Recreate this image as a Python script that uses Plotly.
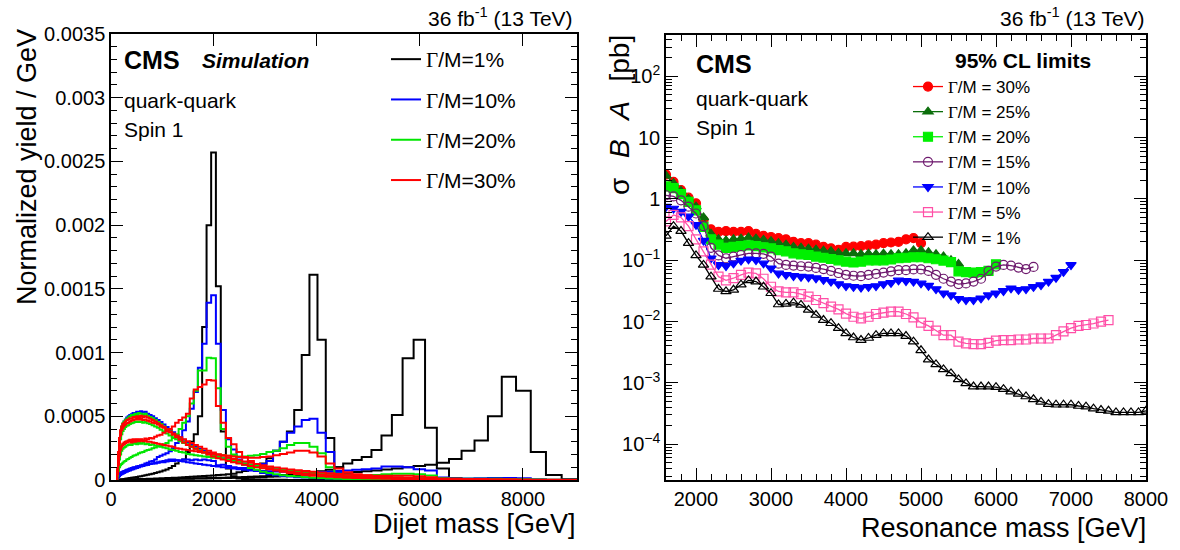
import plotly.graph_objects as go

# ---------------- left panel: signal shapes (normalized yield / GeV, in units of 1e-4) ----------------
# CMS dijet mass bin edges [GeV]
mass_edges = [103, 119, 137, 156, 176, 197, 220, 244, 270, 296, 325, 354, 386, 419, 453, 489, 526,
              565, 606, 649, 693, 740, 788, 838, 890, 944, 1000, 1058, 1118, 1181, 1246, 1313, 1383,
              1455, 1530, 1607, 1687, 1770, 1856, 1945, 2037, 2132, 2231, 2332, 2438, 2546, 2659,
              2775, 2895, 3019, 3147, 3279, 3416, 3558, 3704, 3854, 4010, 4171, 4337, 4509, 4686,
              4869, 5058, 5253, 5455, 5663, 5877, 6099, 6328, 6564, 6808, 7060, 7320, 7589, 7866,
              8152, 8447, 8752, 9067]

width_labels = ['1%', '10%', '20%', '30%']
width_colors = ['#000000', '#0000ff', '#00e600', '#ff0000']

m2000_w1 = [0, 0, 0, 0.02, 0.03, 0.05, 0.06, 0.08, 0.1, 0.11,
            0.13, 0.15, 0.17, 0.19, 0.21, 0.24, 0.27, 0.3, 0.33, 0.37,
            0.41, 0.45, 0.5, 0.55, 0.6, 0.66, 0.74, 0.83, 0.95, 1.1,
            1.3, 1.5, 1.6, 2.2, 3.0, 3.6, 5.0, 12.0, 20.0, 25.7,
            15.2, 3.8, 0.9, 0.3, 0.12, 0.08, 0.05, 0.04, 0.03, 0.02,
            0.02, 0.01, 0, 0, 0, 0, 0, 0, 0, 0,
            0, 0, 0, 0, 0, 0, 0, 0, 0, 0,
            0, 0, 0, 0, 0, 0, 0, 0]
m2000_w10 = [0, 0.15, 0.3, 0.45, 0.55, 0.6, 0.65, 0.7, 0.72, 0.78,
             0.8, 0.85, 0.9, 0.95, 1.0, 1.05, 1.1, 1.15, 1.2, 1.3,
             1.35, 1.45, 1.5, 1.6, 1.8, 1.9, 2.0, 2.1, 2.25, 2.5,
             2.9, 3.3, 3.9, 4.6, 5.6, 6.9, 8.8, 10.7, 13.9, 14.5,
             10.7, 5.5, 3.2, 2.4, 1.6, 1.2, 0.9, 0.7, 0.55, 0.45,
             0.38, 0.32, 0.27, 0.22, 0.19, 0.16, 0.13, 0.11, 0.09, 0.07,
             0.06, 0.05, 0.04, 0.03, 0.03, 0.02, 0.02, 0.01, 0.01, 0,
             0, 0, 0, 0, 0, 0, 0, 0]
m2000_w20 = [0, 0.3, 0.7, 1.0, 1.15, 1.25, 1.35, 1.45, 1.5, 1.6,
             1.65, 1.75, 1.8, 1.9, 1.95, 2.0, 2.1, 2.15, 2.2, 2.3,
             2.35, 2.4, 2.5, 2.55, 2.65, 2.7, 2.8, 2.9, 3.1, 3.3,
             3.6, 4.0, 4.5, 5.0, 6.0, 7.0, 8.6, 8.6, 9.6, 9.55,
             7.2, 4.0, 2.6, 2.0, 1.5, 1.2, 0.95, 0.8, 0.65, 0.55,
             0.45, 0.38, 0.32, 0.27, 0.22, 0.18, 0.15, 0.12, 0.1, 0.08,
             0.07, 0.06, 0.05, 0.04, 0.03, 0.03, 0.02, 0.02, 0.01, 0.01,
             0, 0, 0, 0, 0, 0, 0, 0]
m2000_w30 = [0, 0.5, 1.3, 2.0, 2.4, 2.6, 2.75, 2.8, 2.9, 2.95,
             3.0, 3.05, 2.95, 3.1, 3.0, 3.15, 3.05, 3.2, 3.1, 3.25,
             3.2, 3.3, 3.25, 3.4, 3.5, 3.55, 3.7, 3.85, 4.0, 4.2,
             4.5, 4.7, 4.9, 5.2, 6.4, 7.1, 7.3, 7.5, 7.85, 7.8,
             5.8, 4.5, 3.3, 2.8, 2.2, 1.8, 1.5, 1.25, 1.05, 0.9,
             0.75, 0.65, 0.55, 0.47, 0.4, 0.34, 0.29, 0.25, 0.21, 0.18,
             0.15, 0.13, 0.11, 0.09, 0.08, 0.06, 0.05, 0.04, 0.03, 0.02,
             0.02, 0.01, 0.01, 0, 0, 0, 0, 0]

m4000_w1 = [0, 0, 0, 0, 0.01, 0.01, 0.02, 0.02, 0.03, 0.03,
            0.04, 0.04, 0.05, 0.05, 0.06, 0.06, 0.07, 0.07, 0.08, 0.08,
            0.09, 0.1, 0.1, 0.11, 0.12, 0.13, 0.14, 0.15, 0.16, 0.17,
            0.18, 0.2, 0.21, 0.23, 0.25, 0.27, 0.29, 0.31, 0.33, 0.36,
            0.39, 0.42, 0.46, 0.5, 0.6, 0.7, 0.85, 1.05, 1.3, 1.7,
            2.3, 3.0, 3.8, 5.5, 9.8, 16.1, 11.0, 3.3, 1.0, 0.4,
            0.15, 0.06, 0.03, 0.02, 0.01, 0, 0, 0, 0, 0,
            0, 0, 0, 0, 0, 0, 0, 0]
m4000_w10 = [0, 0.1, 0.25, 0.4, 0.5, 0.6, 0.65, 0.7, 0.75, 0.8,
             0.85, 0.9, 0.95, 1.0, 1.0, 1.05, 1.1, 1.1, 1.15, 1.2,
             1.2, 1.25, 1.3, 1.3, 1.35, 1.4, 1.4, 1.45, 1.5, 1.5,
             1.55, 1.55, 1.6, 1.6, 1.55, 1.6, 1.55, 1.6, 1.55, 1.5,
             1.15, 1.2, 1.1, 1.0, 0.95, 0.95, 1.0, 1.1, 1.25, 1.5,
             2.3, 3.0, 3.7, 4.2, 4.7, 4.8, 3.7, 2.2, 0.6, 0.35,
             0.3, 0.25, 0.2, 0.15, 0.1, 0.07, 0.05, 0.03, 0.02, 0.01,
             0, 0, 0, 0, 0, 0, 0, 0]
m4000_w20 = [0, 0.4, 1.0, 1.6, 2.0, 2.3, 2.45, 2.55, 2.6, 2.7,
             2.75, 2.8, 2.75, 2.85, 2.9, 2.8, 2.9, 2.85, 2.95, 2.8,
             2.85, 2.75, 2.8, 2.7, 2.65, 2.6, 2.55, 2.5, 2.4, 2.35,
             2.3, 2.2, 2.15, 2.05, 2.0, 1.95, 1.9, 1.85, 1.8, 1.75,
             2.0, 1.95, 1.9, 1.9, 1.85, 1.85, 1.9, 1.95, 2.05, 2.2,
             2.3, 2.5, 2.75, 2.9, 2.9, 2.6, 2.1, 1.0, 0.5, 0.3,
             0.22, 0.16, 0.12, 0.09, 0.07, 0.05, 0.04, 0.03, 0.02, 0.01,
             0, 0, 0, 0, 0, 0, 0, 0]
m4000_w30 = [0, 0.5, 1.2, 1.9, 2.4, 2.7, 2.85, 2.95, 3.0, 3.05,
             3.1, 3.15, 3.1, 3.2, 3.15, 3.2, 3.1, 3.15, 3.05, 3.1,
             3.0, 3.0, 2.95, 2.9, 2.85, 2.8, 2.75, 2.7, 2.65, 2.6,
             2.5, 2.45, 2.4, 2.35, 2.3, 2.25, 2.2, 2.15, 2.1, 2.05,
             2.0, 1.95, 1.9, 1.85, 1.8, 1.75, 1.75, 1.75, 1.8, 1.85,
             1.95, 2.05, 2.15, 2.3, 2.3, 2.15, 1.85, 1.3, 0.9, 0.6,
             0.45, 0.35, 0.28, 0.22, 0.17, 0.13, 0.1, 0.07, 0.05, 0.03,
             0.02, 0.01, 0, 0, 0, 0, 0, 0]

m6000_w1 = [0, 0, 0, 0, 0, 0.01, 0.01, 0.01, 0.02, 0.02,
            0.02, 0.03, 0.03, 0.03, 0.04, 0.04, 0.04, 0.05, 0.05, 0.05,
            0.06, 0.06, 0.07, 0.07, 0.07, 0.08, 0.08, 0.09, 0.09, 0.1,
            0.1, 0.11, 0.11, 0.12, 0.12, 0.13, 0.14, 0.14, 0.15, 0.16,
            0.17, 0.18, 0.19, 0.2, 0.22, 0.24, 0.26, 0.28, 0.3, 0.33,
            0.36, 0.4, 0.44, 0.48, 0.53, 0.6, 0.68, 0.8, 1.0, 1.3,
            1.57, 1.8, 2.35, 3.5, 5.1, 9.55, 11.0, 4.1, 0.9, 0.13,
            0.05, 0.02, 0, 0, 0, 0, 0, 0]
m6000_w10 = [0, 0.1, 0.2, 0.3, 0.4, 0.45, 0.5, 0.55, 0.6, 0.65,
             0.7, 0.75, 0.8, 0.85, 0.9, 0.95, 1.0, 1.05, 1.1, 1.15,
             1.2, 1.25, 1.3, 1.35, 1.4, 1.45, 1.5, 1.55, 1.6, 1.6,
             1.55, 1.5, 1.45, 1.4, 1.35, 1.3, 1.25, 1.2, 1.15, 1.1,
             1.05, 1.0, 0.95, 0.9, 0.85, 0.8, 0.75, 0.72, 0.7, 0.68,
             0.66, 0.64, 0.62, 0.6, 0.6, 0.6, 0.62, 0.65, 0.7, 0.75,
             0.8, 0.85, 0.9, 1.05, 1.05, 1.0, 0.85, 0.75, 0.2, 0.05,
             0.02, 0, 0, 0, 0, 0, 0, 0]
m6000_w20 = [0, 0.6, 1.6, 2.6, 3.2, 3.6, 3.85, 4.0, 4.15, 4.25,
             4.3, 4.4, 4.45, 4.5, 4.55, 4.6, 4.55, 4.6, 4.5, 4.55,
             4.45, 4.4, 4.3, 4.2, 4.1, 3.95, 3.8, 3.65, 3.5, 3.35,
             3.2, 3.05, 2.9, 2.75, 2.6, 2.45, 2.3, 2.15, 2.0, 1.9,
             1.8, 1.7, 1.6, 1.5, 1.4, 1.3, 1.2, 1.1, 1.0, 0.92,
             0.85, 0.78, 0.72, 0.66, 0.6, 0.55, 0.5, 0.45, 0.42, 0.38,
             0.36, 0.35, 0.4, 0.45, 0.5, 0.5, 0.45, 0.35, 0.12, 0.03,
             0.01, 0, 0, 0, 0, 0, 0, 0]
m6000_w30 = [0, 0.7, 1.8, 2.9, 3.5, 3.9, 4.1, 4.25, 4.35, 4.45,
             4.5, 4.6, 4.65, 4.7, 4.75, 4.8, 4.75, 4.8, 4.7, 4.75,
             4.65, 4.6, 4.5, 4.45, 4.35, 4.2, 4.1, 3.95, 3.8, 3.65,
             3.5, 3.35, 3.2, 3.05, 2.9, 2.75, 2.6, 2.45, 2.3, 2.15,
             2.0, 1.9, 1.75, 1.65, 1.55, 1.45, 1.35, 1.25, 1.15, 1.05,
             0.98, 0.9, 0.83, 0.76, 0.7, 0.64, 0.58, 0.53, 0.48, 0.44,
             0.4, 0.37, 0.34, 0.33, 0.34, 0.33, 0.3, 0.22, 0.1, 0.03,
             0.01, 0, 0, 0, 0, 0, 0, 0]

m8000_w1 = [0, 0, 0, 0, 0, 0, 0.01, 0.01, 0.01, 0.01,
            0.02, 0.02, 0.02, 0.02, 0.03, 0.03, 0.03, 0.03, 0.04, 0.04,
            0.04, 0.05, 0.05, 0.05, 0.06, 0.06, 0.06, 0.07, 0.07, 0.08,
            0.08, 0.09, 0.09, 0.1, 0.1, 0.11, 0.11, 0.12, 0.12, 0.13,
            0.14, 0.15, 0.16, 0.17, 0.18, 0.19, 0.2, 0.21, 0.23, 0.25,
            0.27, 0.29, 0.31, 0.34, 0.37, 0.4, 0.44, 0.48, 0.52, 0.57,
            0.62, 0.68, 0.75, 0.82, 0.9, 1.0, 1.1, 1.2, 1.36, 1.65,
            2.3, 3.1, 5.0, 8.1, 7.0, 2.2, 0.4, 0.05]
m8000_w10 = [0, 0.8, 2.0, 3.1, 3.7, 4.1, 4.4, 4.6, 4.75, 4.9,
             5.0, 5.1, 5.15, 5.25, 5.2, 5.35, 5.3, 5.4, 5.3, 5.35,
             5.2, 5.1, 5.0, 4.85, 4.7, 4.55, 4.35, 4.15, 3.95, 3.75,
             3.55, 3.35, 3.15, 2.95, 2.75, 2.6, 2.45, 2.3, 2.15, 2.0,
             1.85, 1.7, 1.6, 1.5, 1.4, 1.3, 1.2, 1.1, 1.0, 0.92,
             0.84, 0.76, 0.69, 0.62, 0.56, 0.5, 0.45, 0.4, 0.36, 0.32,
             0.28, 0.25, 0.22, 0.2, 0.18, 0.16, 0.14, 0.13, 0.12, 0.12,
             0.12, 0.13, 0.15, 0.16, 0.14, 0.06, 0.02, 0]
m8000_w20 = [0, 0.8, 2.1, 3.2, 3.8, 4.2, 4.45, 4.6, 4.7, 4.8,
             4.9, 5.0, 5.1, 5.05, 5.2, 5.1, 5.25, 5.2, 5.1, 5.2,
             5.05, 4.95, 4.85, 4.7, 4.55, 4.4, 4.2, 4.0, 3.8, 3.6,
             3.4, 3.2, 3.0, 2.8, 2.65, 2.5, 2.35, 2.2, 2.05, 1.9,
             1.75, 1.65, 1.55, 1.45, 1.35, 1.25, 1.15, 1.05, 0.95, 0.88,
             0.8, 0.72, 0.65, 0.58, 0.52, 0.47, 0.42, 0.38, 0.34, 0.3,
             0.27, 0.24, 0.21, 0.19, 0.17, 0.15, 0.13, 0.12, 0.11, 0.1,
             0.1, 0.09, 0.09, 0.08, 0.06, 0.03, 0.01, 0]
m8000_w30 = [0, 0.9, 2.2, 3.3, 3.9, 4.2, 4.4, 4.5, 4.6, 4.7,
             4.75, 4.85, 4.8, 4.95, 4.9, 5.0, 4.95, 5.05, 4.95, 5.0,
             4.9, 4.8, 4.7, 4.6, 4.45, 4.3, 4.15, 3.95, 3.75, 3.55,
             3.35, 3.15, 2.95, 2.75, 2.6, 2.45, 2.3, 2.15, 2.0, 1.85,
             1.7, 1.6, 1.5, 1.4, 1.3, 1.2, 1.1, 1.0, 0.92, 0.85,
             0.78, 0.7, 0.63, 0.57, 0.51, 0.46, 0.41, 0.37, 0.33, 0.3,
             0.27, 0.24, 0.21, 0.19, 0.17, 0.15, 0.13, 0.12, 0.1, 0.09,
             0.08, 0.07, 0.06, 0.05, 0.04, 0.02, 0.01, 0]

shapes_by_width = {
    '1%': [m2000_w1, m4000_w1, m6000_w1, m8000_w1],
    '10%': [m2000_w10, m4000_w10, m6000_w10, m8000_w10],
    '20%': [m2000_w20, m4000_w20, m6000_w20, m8000_w20],
    '30%': [m2000_w30, m4000_w30, m6000_w30, m8000_w30],
}

# ---------------- right panel: 95% CL limits sigma*B*A [pb] ----------------
limit_mass_start = 1600
limit_mass_step = 100
lim_w30 = [2.5, 1.9, 1.4, 1.05, 0.85, 0.45, 0.32, 0.29, 0.30, 0.29,
           0.29, 0.30, 0.27, 0.25, 0.24, 0.23, 0.22, 0.20, 0.19, 0.19,
           0.18, 0.165, 0.157, 0.148, 0.165, 0.167, 0.17, 0.175, 0.18, 0.19,
           0.195, 0.20, 0.22, 0.23, 0.19]
lim_w25 = [2.4, 1.8, 1.35, 1.0, 0.75, 0.5, 0.27, 0.22, 0.21, 0.22,
           0.225, 0.235, 0.225, 0.215, 0.205, 0.19, 0.18, 0.165, 0.16, 0.155,
           0.148, 0.143, 0.14, 0.132, 0.13, 0.13, 0.125, 0.128, 0.125, 0.128,
           0.125, 0.125, 0.13, 0.145, 0.145, 0.135, 0.125, 0.115, 0.10, 0.087]
lim_w20 = [1.6, 1.5, 1.2, 0.9, 0.65, 0.35, 0.22, 0.18, 0.16, 0.165,
           0.17, 0.175, 0.17, 0.163, 0.157, 0.147, 0.14, 0.13, 0.125, 0.122,
           0.115, 0.11, 0.105, 0.10, 0.095, 0.092, 0.095, 0.10, 0.10, 0.10,
           0.103, 0.108, 0.11, 0.112, 0.112, 0.108, 0.104, 0.099, 0.093, 0.066,
           0.064, 0.063, 0.064, 0.067, 0.086]
lim_w15 = [1.15, 1.1, 0.95, 0.75, 0.58, 0.36, 0.16, 0.12, 0.108, 0.115,
           0.122, 0.13, 0.13, 0.127, 0.115, 0.088, 0.084, 0.082, 0.08, 0.079,
           0.075, 0.072, 0.067, 0.062, 0.058, 0.056, 0.055, 0.058, 0.06, 0.063,
           0.066, 0.069, 0.069, 0.071, 0.071, 0.067, 0.058, 0.05, 0.045, 0.041,
           0.042, 0.045, 0.05, 0.067, 0.079, 0.084, 0.082, 0.076, 0.072, 0.078]
lim_w10 = [0.75, 0.7, 0.62, 0.52, 0.38, 0.21, 0.108, 0.084, 0.081, 0.089,
           0.099, 0.104, 0.101, 0.089, 0.074, 0.061, 0.058, 0.0555, 0.054, 0.053,
           0.051, 0.048, 0.045, 0.041, 0.038, 0.037, 0.036, 0.037, 0.038, 0.041,
           0.043, 0.047, 0.046, 0.045, 0.042, 0.0385, 0.034, 0.029, 0.027, 0.0235,
           0.0225, 0.0225, 0.024, 0.027, 0.029, 0.0316, 0.035, 0.033, 0.034, 0.037,
           0.0395, 0.045, 0.052, 0.065, 0.084]
lim_w5 = [0.43, 0.55, 0.5, 0.36, 0.22, 0.14, 0.085, 0.054, 0.047, 0.051,
          0.058, 0.063, 0.061, 0.05, 0.037, 0.031, 0.03, 0.03, 0.028, 0.0255,
          0.0225, 0.02, 0.0175, 0.0158, 0.0135, 0.012, 0.0113, 0.012, 0.0133, 0.014,
          0.0145, 0.0145, 0.0133, 0.0117, 0.0096, 0.0085, 0.0071, 0.006, 0.006, 0.0047,
          0.0044, 0.0043, 0.0043, 0.0045, 0.0049, 0.005, 0.005, 0.0051, 0.0051, 0.0053,
          0.0053, 0.0053, 0.006, 0.0069, 0.0078, 0.0085, 0.0088, 0.0093, 0.01, 0.0106]
lim_w1 = [0.25, 0.36, 0.30, 0.19, 0.12, 0.084, 0.054, 0.034, 0.031, 0.033,
          0.04, 0.047, 0.045, 0.037, 0.029, 0.019, 0.0194, 0.0204, 0.0187, 0.0155,
          0.0128, 0.0106, 0.0094, 0.0078, 0.0064, 0.0055, 0.005, 0.0054, 0.006, 0.0064,
          0.0064, 0.0064, 0.0058, 0.0047, 0.0034, 0.0024, 0.002, 0.00166, 0.00143, 0.00114,
          0.00098, 0.00087, 0.00087, 0.00087, 0.00085, 0.00079, 0.00072, 0.00066, 0.0006, 0.00054,
          0.00049, 0.00045, 0.00044, 0.00044, 0.00044, 0.00042, 0.00041, 0.00038, 0.00036, 0.00035,
          0.00033, 0.00033, 0.00033, 0.00033, 0.00035]

limit_series = [
    ('30%', lim_w30, '#ff0000', 'circle'),
    ('25%', lim_w25, '#0b6e0b', 'triangle-up'),
    ('20%', lim_w20, '#00f000', 'square'),
    ('15%', lim_w15, '#6e1a6e', 'circle-open'),
    ('10%', lim_w10, '#0000ff', 'triangle-down'),
    ('5%', lim_w5, '#ff4fa7', 'square-open'),
    ('1%', lim_w1, '#000000', 'triangle-up-open'),
]

log_tick_vals = [1e-4, 1e-3, 1e-2, 1e-1, 1, 10, 100]
log_tick_text = ['10<sup>\u22124</sup>', '10<sup>\u22123</sup>', '10<sup>\u22122</sup>',
                 '10<sup>\u22121</sup>', '1', '10', '10<sup>2</sup>']

FONT = 'Liberation Sans, Arial, Helvetica, sans-serif'
GAMMA = "<span style='font-family:Liberation Serif'>\u0393</span>"
W, H = 1180, 550


def px(x):
    return x / W


def py(y):
    return 1 - y / H


fig = go.Figure()

# histograms as step outlines
for wlab, col in zip(width_labels, width_colors):
    for k, vals in enumerate(shapes_by_width[wlab]):
        assert len(vals) == len(mass_edges) - 1
        xs = [mass_edges[0]] + mass_edges
        ys = [0] + [v * 1e-4 for v in vals] + [0]
        fig.add_trace(go.Scatter(
            x=xs, y=ys, mode='lines', line=dict(color=col, width=2, shape='hv'),
            name=GAMMA + '/M=' + wlab, legendgroup='h' + wlab, legend='legend',
            showlegend=(k == 0), xaxis='x', yaxis='y', hoverinfo='skip'))

# limit curves
for wlab, vals, col, sym in limit_series:
    masses = [limit_mass_start + limit_mass_step * i for i in range(len(vals))]
    fig.add_trace(go.Scatter(
        x=masses, y=vals, mode='lines+markers',
        line=dict(color=col, width=1.3),
        marker=dict(symbol=sym, size=9, color=col, line=dict(color=col, width=1.2)),
        name=GAMMA + '/M = ' + wlab, legendgroup='l' + wlab, legend='legend2',
        xaxis='x2', yaxis='y2'))

axis_common = dict(showline=True, linecolor='black', linewidth=1.5, mirror='allticks',
                   ticks='inside', tickcolor='black', tickwidth=1, showgrid=False,
                   zeroline=False, automargin=False,
                   tickfont=dict(family=FONT, size=20, color='black'))

minor_log = [m * 10 ** e for e in range(-5, 3) for m in range(2, 10)]

fig.update_layout(
    width=W, height=H, margin=dict(l=0, r=0, t=0, b=0, pad=0, autoexpand=False),
    paper_bgcolor='white', plot_bgcolor='white',
    font=dict(family=FONT, color='black'),
    xaxis=dict(domain=[px(111), px(577)], range=[0, 9050], anchor='y', dtick=2000, tick0=0,
               tickformat='d', ticklen=12, **axis_common),
    yaxis=dict(domain=[py(480), py(34)], range=[0, 0.0035], anchor='x', dtick=0.0005, tick0=0,
               tickformat='.4~f', ticklen=12,
               minor=dict(ticks='inside', ticklen=6, dtick=0.0001, tickcolor='black', showgrid=False),
               **axis_common),
    xaxis2=dict(domain=[px(666), px(1146)], range=[1600, 8000], anchor='y2', dtick=1000, tick0=0,
                tickformat='d', ticklen=12,
                minor=dict(ticks='inside', ticklen=6, dtick=200, tickcolor='black', showgrid=False),
                **axis_common),
    yaxis2=dict(domain=[py(480), py(35)], type='log', range=[-4.584, 2.675], anchor='x2',
                tickmode='array', tickvals=log_tick_vals, ticktext=log_tick_text, ticklen=12,
                minor=dict(ticks='inside', ticklen=6, tickmode='array', tickvals=minor_log,
                           tickcolor='black', showgrid=False),
                **axis_common),
    legend=dict(x=px(386), y=py(39), xanchor='left', yanchor='top', bgcolor='rgba(0,0,0,0)',
                font=dict(family=FONT, size=21), tracegroupgap=10, itemwidth=30,
                traceorder='grouped'),
    legend2=dict(x=px(908), y=py(69), xanchor='left', yanchor='top', bgcolor='rgba(0,0,0,0)',
                 font=dict(family=FONT, size=17), tracegroupgap=0, itemwidth=30,
                 traceorder='grouped'),
)


def label(text, x, y, size, xanchor='left', angle=0, yanchor='middle'):
    fig.add_annotation(text=text, x=px(x), y=py(y), xref='paper', yref='paper',
                       xanchor=xanchor, yanchor=yanchor, showarrow=False, textangle=angle,
                       font=dict(family=FONT, size=size, color='black'))


SP = '\u2002\u2009'

# left panel texts
label('<b>CMS</b>', 122, 60, 25)
label('<b><i>Simulation</i></b>', 200, 60, 21)
label('quark-quark', 122, 100, 21)
label('Spin 1', 122, 129, 21)
label('36 fb<sup>-1</sup> (13 TeV)', 575, 17, 21, xanchor='right')
label('Dijet mass [GeV]', 578, 524, 27, xanchor='right')
label('Normalized yield / GeV', 27, 167, 27, xanchor='center', angle=-90)

# right panel texts
label('<b>CMS</b>', 694, 64, 25)
label('quark-quark', 694, 99, 21)
label('Spin 1', 694, 128, 21)
label('36 fb<sup>-1</sup> (13 TeV)', 1147, 17, 21, xanchor='right')
label('<b>95% CL limits</b>', 953, 60, 21)
label('Resonance mass [GeV]', 1148, 528, 27, xanchor='right')
label('\u03c3' + SP + '<i>B</i>' + SP + '<i>A</i>' + SP + '[pb]', 619, 115, 28,
      xanchor='center', angle=-90)

fig.write_html('out.html', config={'displayModeBar': False},
               post_script="document.body.style.margin='0';")
